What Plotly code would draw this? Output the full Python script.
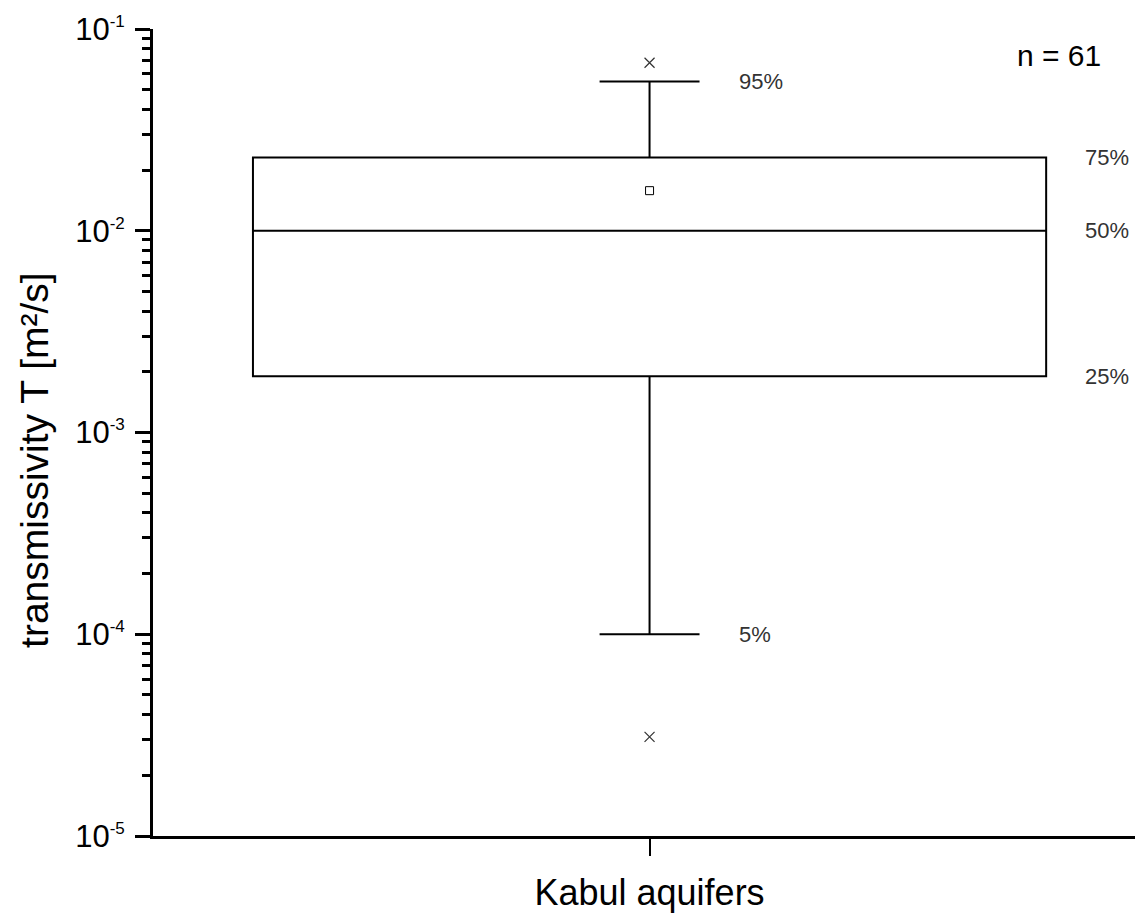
import math
import plotly.graph_objects as go

# Summary statistics of aquifer transmissivity (m²/s)
category = ["Kabul aquifers"]
positions = [0]
p05 = [1.0e-4]
q1 = [1.9e-3]
median = [1.0e-2]
q3 = [2.31e-2]
p95 = [5.5e-2]
mean = [1.58e-2]
outliers = [3.1e-5, 6.8e-2]
n_samples = 61

percent_labels = ["5%", "25%", "50%", "75%", "95%"]
percent_values = [p05[0], q1[0], median[0], q3[0], p95[0]]

decades = [1e-5, 1e-4, 1e-3, 1e-2, 1e-1]
exponents = ["-5", "-4", "-3", "-2", "-1"]
decade_text = [f"10<sup><span style='font-size:17px'>{e}</span></sup>" for e in exponents]
minor_vals = [m * d for d in decades[:-1] for m in range(2, 10)]

FONT = "Arial, Liberation Sans, sans-serif"

fig = go.Figure()

fig.add_trace(go.Box(
    x=positions, q1=q1, median=median, q3=q3,
    lowerfence=p05, upperfence=p95, mean=mean,
    boxpoints=False, boxmean=False,
    width=1.0, whiskerwidth=0.126,
    line=dict(color="black", width=2),
    fillcolor="rgba(0,0,0,0)",
    showlegend=False, hoverinfo="y",
))

# mean marker
fig.add_trace(go.Scatter(
    x=positions, y=mean, mode="markers", showlegend=False,
    marker=dict(symbol="square-open", size=8, color="black",
                line=dict(width=1, color="black")),
))

# extreme values
fig.add_trace(go.Scatter(
    x=positions * len(outliers), y=outliers, mode="markers", showlegend=False,
    marker=dict(symbol="x-thin-open", size=10, color="#333",
                line=dict(width=1.2, color="#333")),
))

annotations = []
for lbl, val in zip(percent_labels, percent_values):
    inner = lbl in ("5%", "95%")
    annotations.append(dict(
        x=0.11 if inner else 0.547, y=math.log10(val), xref="x", yref="y",
        text=lbl, showarrow=False, xanchor="left", yanchor="middle",
        font=dict(family=FONT, size=22, color="#333"),
    ))

annotations.append(dict(
    x=0.461, y=0.967, xref="x", yref="paper", text=f"n = {n_samples}",
    showarrow=False, xanchor="left", yanchor="middle",
    font=dict(family=FONT, size=30, color="black"),
))

annotations.append(dict(
    x=0, y=0.466, xref="paper", yref="paper", xshift=-118,
    text="transmissivity T [m²/s]", textangle=-90, showarrow=False,
    xanchor="center", yanchor="middle",
    font=dict(family=FONT, size=39, color="black"),
))

fig.update_layout(
    width=1135, height=913,
    margin=dict(l=153, r=0, t=29, b=77),
    paper_bgcolor="white", plot_bgcolor="white",
    font=dict(family=FONT, color="black"),
    annotations=annotations,
    xaxis=dict(
        range=[-0.626, 0.612], showgrid=False, zeroline=False,
        showline=True, linewidth=3, linecolor="black",
        tickvals=positions, ticktext=category,
        ticks="outside", ticklen=17, tickwidth=2, tickcolor="black",
        ticklabelstandoff=6,
        tickfont=dict(family=FONT, size=36, color="black"),
    ),
    yaxis=dict(
        type="log", range=[-5, -1], showgrid=False, zeroline=False,
        showline=True, linewidth=3, linecolor="black",
        tickvals=decades, ticktext=decade_text,
        ticks="outside", ticklen=15, tickwidth=3, tickcolor="black",
        ticklabelstandoff=4,
        tickfont=dict(family=FONT, size=31, color="black"),
        minor=dict(tickvals=minor_vals, ticks="outside", ticklen=8,
                   tickwidth=2.5, tickcolor="black", showgrid=False),
    ),
)

fig.write_html("out.html")
